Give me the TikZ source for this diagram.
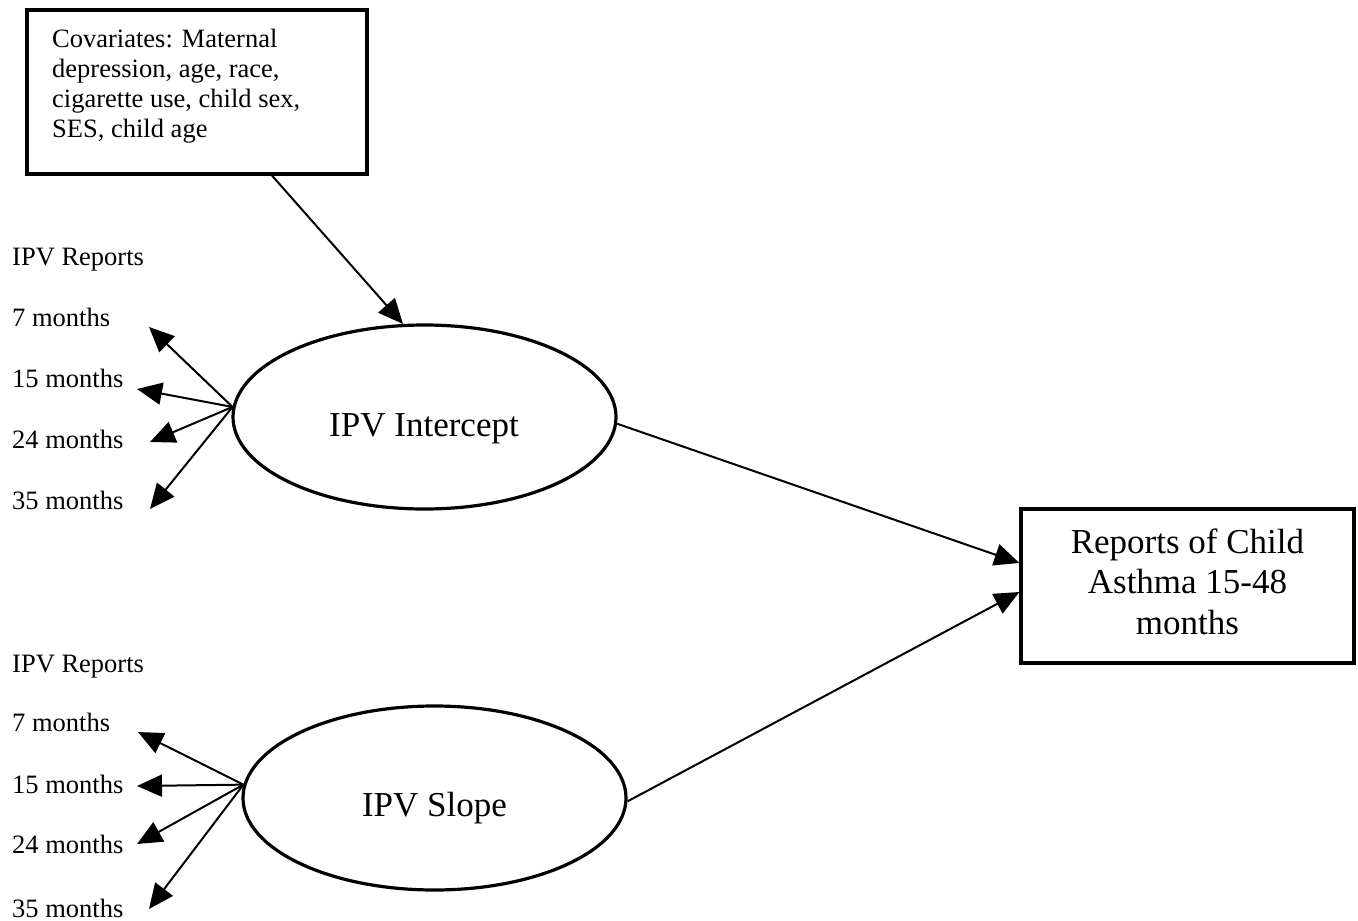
\documentclass[tikz,border=0pt]{standalone}
\usepackage{fontspec}
\setmainfont{Liberation Serif}
\usetikzlibrary{arrows.meta,shapes.geometric}
\begin{document}
\begin{tikzpicture}[x=1pt,y=-1pt,
  small/.style={font=\fontsize{26.5}{30}\selectfont, inner sep=0pt},
  big/.style={font=\fontsize{35}{40.5}\selectfont, inner sep=0pt},
  lbl/.style={small, anchor=base west},
  boxnode/.style={draw, line width=3.2pt, inner sep=0pt},
  latent/.style={draw, ellipse, line width=3.2pt, inner sep=0pt, minimum width=383pt, minimum height=184pt},
  arr/.style={line width=2pt, -{Triangle[length=25pt,width=22pt]}}
]
\useasboundingbox (0,0) rectangle (1358,921);
% covariates box
\node[boxnode, minimum width=340pt, minimum height=164pt] (cov) at (197,92) {};
\node[small, align=left, anchor=north west] (covtext) at (52,28.5)
  {Covariates: Maternal\\depression, age, race,\\cigarette use, child sex,\\SES, child age};
% outcome box
\node[boxnode, minimum width=333pt, minimum height=154pt, big, align=center, text depth=9pt] (rep) at (1187.5,586)
  {Reports of Child\\Asthma 15-48\\months};
% latent factors
\node[latent] (int) at (424.5,417) {};
\node[big, anchor=base] (inttext) at (424,436) {IPV Intercept};
\node[latent] (slo) at (434.5,798) {};
\node[big, anchor=base] (slotext) at (434.5,816) {IPV Slope};
% upper labels
\node[lbl] (hA) at (12,265) {IPV Reports};
\node[lbl] (a7) at (12,326) {7 months};
\node[lbl] (a15) at (12,387) {15 months};
\node[lbl] (a24) at (12,448) {24 months};
\node[lbl] (a35) at (12,509) {35 months};
% lower labels
\node[lbl] (hB) at (12,672) {IPV Reports};
\node[lbl] (b7) at (12,731) {7 months};
\node[lbl] (b15) at (12,793) {15 months};
\node[lbl] (b24) at (12,853) {24 months};
\node[lbl] (b35) at (12,917) {35 months};
% arrow tips
\coordinate (ta7) at (149,327);
\coordinate (ta15) at (137,389);
\coordinate (ta24) at (150,442);
\coordinate (ta35) at (150,509);
\coordinate (tb7) at (138,732);
\coordinate (tb15) at (137,786);
\coordinate (tb24) at (137,844);
\coordinate (tb35) at (149,909);
% connectors
\draw[arr] ([xshift=75pt]cov.south) -- (int.103);
\foreach \t in {ta7,ta15,ta24,ta35} \draw[arr] (int.177) -- (\t);
\foreach \t in {tb7,tb15,tb24,tb35} \draw[arr] (slo.176) -- (\t);
\draw[arr] (int.-2) -- ([yshift=23pt]rep.west);
\draw[arr] (slo.-1) -- ([yshift=-6pt]rep.west);
\end{tikzpicture}
\end{document}
